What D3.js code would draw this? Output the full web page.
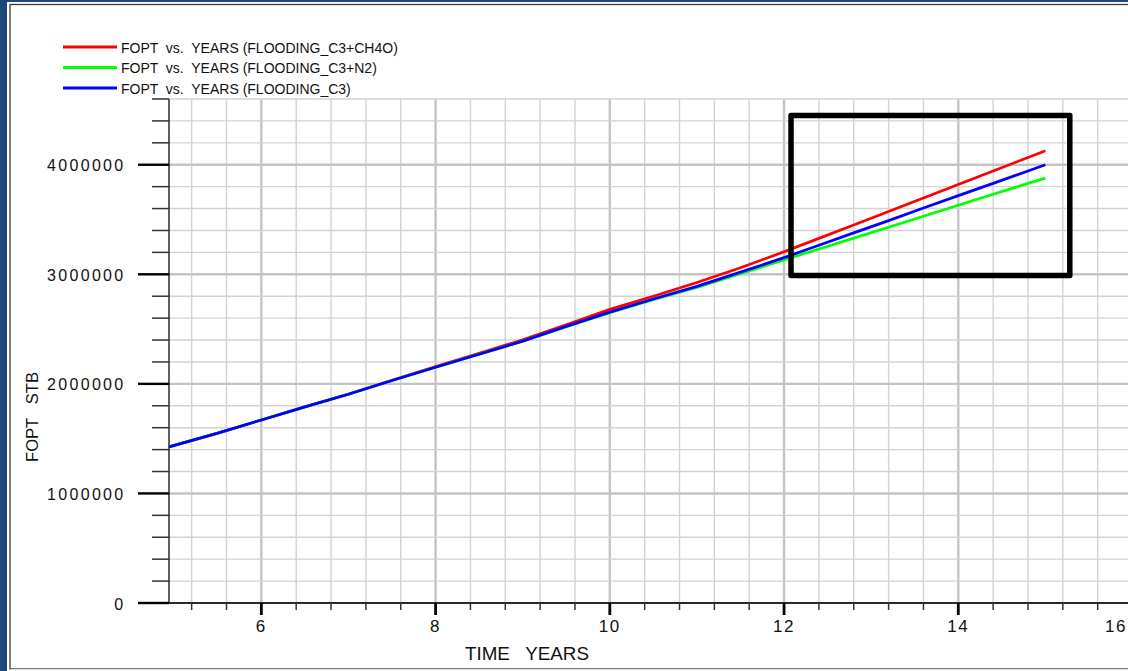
<!DOCTYPE html>
<html>
<head>
<meta charset="utf-8">
<script src="https://cdn.jsdelivr.net/npm/d3@7"></script>
<style>
    html, body { margin: 0; padding: 0; background: #1d4877; overflow: hidden; }
    svg { display: block; font-family: "Liberation Sans", Arial, sans-serif; }
</style>
</head>
<body>
<svg id="chart" width="1128" height="671"></svg>
<script>
// Values (time in years, FOPT in STB).
const years    = [4.94, 5.5, 6, 6.5, 7, 7.5, 8, 8.5, 9, 9.5, 10, 10.5, 11, 11.5, 12, 12.4, 12.8, 13.2, 13.6, 14, 14.4, 14.8, 15.0];
const foptCh4o = [1425000, 1550000, 1671000, 1790000, 1908000, 2033000, 2158000, 2280000, 2402000, 2540000, 2680000, 2800000, 2925000, 3060000, 3205000, 3328000, 3450000, 3574000, 3697000, 3820000, 3943000, 4066000, 4128000];
const foptN2   = [1425000, 1550000, 1671000, 1790000, 1905000, 2030000, 2152000, 2270000, 2390000, 2522000, 2650000, 2768000, 2880000, 3005000, 3132000, 3231000, 3330000, 3430000, 3530000, 3630000, 3730000, 3830000, 3878000];
const foptC3   = [1425000, 1550000, 1671000, 1790000, 1905000, 2030000, 2152000, 2270000, 2390000, 2525000, 2655000, 2775000, 2890000, 3020000, 3152000, 3265000, 3378000, 3490000, 3605000, 3718000, 3830000, 3943000, 4000000];

const seriesNames  = ['FOPT  vs.  YEARS (FLOODING_C3+CH4O)', 'FOPT  vs.  YEARS (FLOODING_C3+N2)', 'FOPT  vs.  YEARS (FLOODING_C3)'];
const seriesColors = ['#ff0000', '#00ff00', '#0000ff'];

const xTickLabels = [6, 8, 10, 12, 14, 16];
const yTickLabels = [0, 1000000, 2000000, 3000000, 4000000];

// The black box drawn over the late-time part of the plot.
const boxYears = [12.08, 15.28];
const boxFopt  = [2990000, 4450000];

const width = 1128;
const height = 671;
const plotLeft = 169, plotRight = 1128, plotTop = 99, plotBottom = 603;

const svg = d3.select('#chart');

// white panel with its thin dark frame
svg.append('rect').attr('x', 7).attr('y', 2).attr('width', width).attr('height', height).attr('fill', '#ffffff');
svg.append('rect').attr('x', 10).attr('y', 4.5).attr('width', width + 20).attr('height', 664.5)
    .attr('fill', 'none').attr('stroke', '#3a3a3a').attr('stroke-width', 1.3);
svg.append('line').attr('x1', 10).attr('x2', width).attr('y1', 669.5).attr('y2', 669.5)
    .attr('stroke', '#dcdcdc').attr('stroke-width', 1);

const x = d3.scaleLinear().domain([4.94, 15.948]).range([plotLeft, plotRight]);
const y = d3.scaleLinear().domain([0, 4600000]).range([plotBottom, plotTop]);

// minor steps: 0.4 year and 200000 STB
const xMinor = d3.range(13, 41).map(i => +(i * 0.4).toFixed(1));
const yMinor = d3.range(0, 24).map(i => i * 200000);
const isMajorX = v => Math.abs(v / 2 - Math.round(v / 2)) < 1e-6;
const isMajorY = v => v % 1000000 === 0;

// grid
const grid = svg.append('g');
grid.selectAll('line.gx')
    .data(xMinor.filter(v => x(v) <= plotRight))
    .join('line')
    .attr('x1', d => x(d)).attr('x2', d => x(d))
    .attr('y1', plotTop).attr('y2', plotBottom)
    .attr('stroke', d => isMajorX(d) ? '#c4c4c4' : '#d3d3d3')
    .attr('stroke-width', d => isMajorX(d) ? 2.4 : 1.4);
grid.selectAll('line.gy')
    .data(yMinor.filter(v => v > 0))
    .join('line')
    .attr('x1', plotLeft).attr('x2', plotRight)
    .attr('y1', d => y(d)).attr('y2', d => y(d))
    .attr('stroke', d => isMajorY(d) ? '#c4c4c4' : '#d3d3d3')
    .attr('stroke-width', d => isMajorY(d) ? 2.4 : 1.4);

// y axis with its outside ticks
const yAxis = svg.append('g');
yAxis.append('line').attr('x1', plotLeft).attr('x2', plotLeft).attr('y1', plotTop).attr('y2', plotBottom)
    .attr('stroke', '#2a2a2a').attr('stroke-width', 1.5);
yAxis.selectAll('line.t')
    .data(yMinor)
    .join('line')
    .attr('x1', d => isMajorY(d) ? 138 : 152).attr('x2', plotLeft)
    .attr('y1', d => y(d)).attr('y2', d => y(d))
    .attr('stroke', d => isMajorY(d) ? '#000' : '#333')
    .attr('stroke-width', d => isMajorY(d) ? 2.4 : 1.5);
yAxis.selectAll('text')
    .data(yTickLabels)
    .join('text')
    .attr('x', 125.5)
    .attr('y', d => y(d) + 6.5)
    .attr('text-anchor', 'end')
    .style('font-size', '16px')
    .style('letter-spacing', '2.3px')
    .attr('fill', '#111')
    .text(d => d);

// x axis
const xAxis = svg.append('g');
xAxis.append('line').attr('x1', plotLeft).attr('x2', plotRight).attr('y1', plotBottom).attr('y2', plotBottom)
    .attr('stroke', '#2a2a2a').attr('stroke-width', 1.8);
xAxis.selectAll('line.t')
    .data(xMinor.filter(v => x(v) <= plotRight))
    .join('line')
    .attr('x1', d => x(d)).attr('x2', d => x(d))
    .attr('y1', plotBottom).attr('y2', d => isMajorX(d) ? 615 : 610)
    .attr('stroke', d => isMajorX(d) ? '#000' : '#333')
    .attr('stroke-width', d => isMajorX(d) ? 2.8 : 1.5);
xAxis.selectAll('text')
    .data(xTickLabels)
    .join('text')
    .attr('x', d => Math.min(x(d), width - 12))
    .attr('y', 632)
    .attr('text-anchor', 'middle')
    .style('font-size', '17px')
    .style('letter-spacing', '1.5px')
    .attr('fill', '#111')
    .text(d => d);

// axis titles
svg.append('text')
    .attr('x', 465).attr('y', 660)
    .attr('textLength', 124).attr('lengthAdjust', 'spacingAndGlyphs')
    .style('font-size', '18px').style('white-space', 'pre')
    .attr('fill', '#111')
    .text('TIME   YEARS');
svg.append('text')
    .attr('transform', 'translate(38,462) rotate(-90)')
    .attr('textLength', 90).attr('lengthAdjust', 'spacingAndGlyphs')
    .style('font-size', '17px').style('white-space', 'pre')
    .attr('fill', '#111')
    .text('FOPT   STB');

// the three curves, blue drawn last as in the reference
const series = [foptCh4o, foptN2, foptC3];
const line = d3.line()
    .x((d, i) => x(years[i]))
    .y(d => y(d));
svg.append('g')
    .selectAll('path')
    .data(series)
    .join('path')
    .attr('d', line)
    .attr('fill', 'none')
    .attr('stroke', (d, i) => seriesColors[i])
    .attr('stroke-width', 2.7)
    .attr('stroke-linejoin', 'round');

// legend
const legend = svg.append('g')
    .selectAll('g')
    .data(seriesNames)
    .join('g')
    .attr('transform', (d, i) => `translate(0, ${47 + i * 20.5})`);
legend.append('line')
    .attr('x1', 63).attr('x2', 117)
    .attr('stroke', (d, i) => seriesColors[i])
    .attr('stroke-width', 3);
legend.append('text')
    .attr('x', 121).attr('y', 5.5)
    .style('font-size', '14px').style('white-space', 'pre')
    .attr('fill', '#111')
    .text(d => d);

// highlight box
svg.append('rect')
    .attr('x', x(boxYears[0]))
    .attr('y', y(boxFopt[1]))
    .attr('width', x(boxYears[1]) - x(boxYears[0]))
    .attr('height', y(boxFopt[0]) - y(boxFopt[1]))
    .attr('fill', 'none')
    .attr('stroke', '#000')
    .attr('stroke-width', 5.5)
    .attr('stroke-linejoin', 'round');
</script>
</body>
</html>
